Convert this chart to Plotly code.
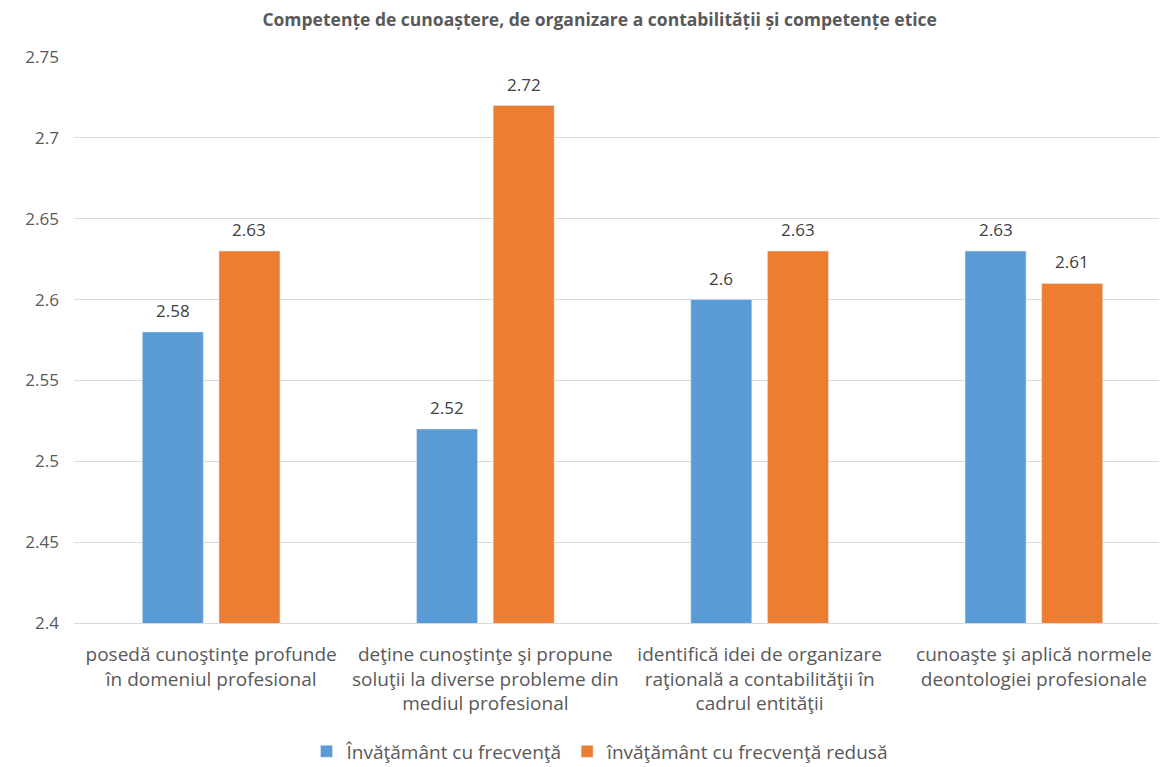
import plotly.graph_objects as go

categories = [
    "posedă cunoştinţe profunde<br>în domeniul profesional",
    "deţine cunoştinţe şi propune<br>soluţii la diverse probleme din<br>mediul profesional",
    "identifică idei de organizare<br>raţională a contabilităţii în<br>cadrul entităţii",
    "cunoaşte şi aplică normele<br>deontologiei profesionale",
]
series_names = ["Învăţământ cu frecvenţă", "învăţământ cu frecvenţă redusă"]
frecventa = [2.58, 2.52, 2.60, 2.63]
redusa = [2.63, 2.72, 2.63, 2.61]
tick_vals = [2.4, 2.45, 2.5, 2.55, 2.6, 2.65, 2.7, 2.75]
tick_text = ["2.4", "2.45", "2.5", "2.55", "2.6", "2.65", "2.7", "2.75"]
title = "Competențe de cunoaștere, de organizare a contabilității și competențe etice"

FONT = "'Open Sans', sans-serif"
colors = ["#5B9BD5", "#ED7D31"]
BARGAP = 0.441
GROUPGAP = 0.204

fig = go.Figure()
series = [frecventa, redusa]
for name, vals, col in zip(series_names, series, colors):
    fig.add_trace(go.Bar(x=categories, y=vals, name=name, marker_color=col))

# data labels above bars, positioned at each bar's slot centre
slot = (1 - BARGAP) / len(series)
for k, vals in enumerate(series):
    off = (k - (len(series) - 1) / 2) * slot
    for i, v in enumerate(vals):
        fig.add_annotation(x=i + off, y=v, xref="x", yref="y", text=f"{v:g}",
                           showarrow=False, yanchor="bottom", yshift=8,
                           font=dict(size=17, color="#404040", family=FONT))

fig.update_layout(
    width=1167, height=767,
    margin=dict(l=66, r=4, t=49, b=149),
    paper_bgcolor="white", plot_bgcolor="white",
    barmode="group", bargap=BARGAP, bargroupgap=GROUPGAP,
    font=dict(family=FONT, color="#595959"),
    title=dict(text="<b>" + title + "</b>", x=0.507, xanchor="center",
               y=0.984, yanchor="middle",
               font=dict(size=17.5, color="#595959", family=FONT)),
    legend=dict(orientation="h", x=0.4795, xanchor="center", y=-0.227,
                yanchor="middle", font=dict(size=19, color="#595959", family=FONT)),
    showlegend=True,
)
fig.update_yaxes(range=[2.4, 2.75], tickvals=tick_vals, ticktext=tick_text,
                 showgrid=True, gridcolor="#D9D9D9", gridwidth=1,
                 zeroline=False, showline=False, automargin=False,
                 tickfont=dict(size=17, color="#595959", family=FONT),
                 ticklabelstandoff=14)
fig.update_xaxes(range=[-0.5, 3.5], showline=True, linecolor="#D9D9D9", linewidth=1,
                 automargin=False, ticklabelstandoff=14,
                 tickfont=dict(size=19, color="#595959", family=FONT),
                 showgrid=False)

fig.write_html("out.html")
